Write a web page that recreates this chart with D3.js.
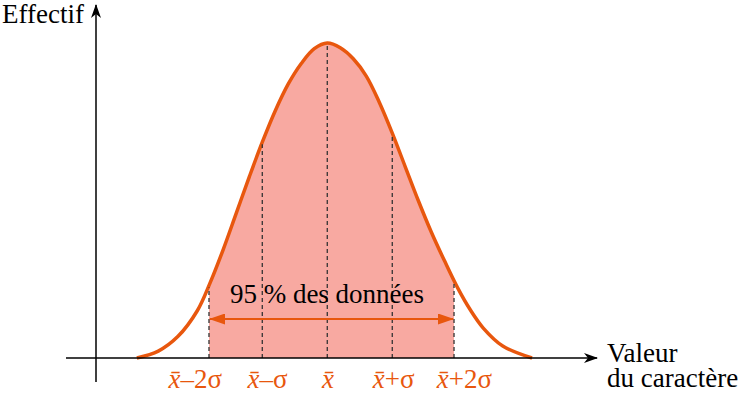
<!DOCTYPE html>
<html><head><meta charset="utf-8">
<script src="https://cdn.jsdelivr.net/npm/d3@7"></script>
<style>body{margin:0;background:#fff}svg{display:block}</style>
</head><body><svg id="c" width="740" height="397"></svg>
<script>
// Curve samples: position in σ units from the mean, relative height (peak = 1)
const curveU = [-2.93,-2.6,-2.3,-2.0,-1.8,-1.6,-1.4,-1.2,-1.0,-0.8,-0.6,-0.4,-0.2,0,0.2,0.4,0.6,0.8,1.0,1.2,1.4,1.6,1.8,2.0,2.2,2.4,2.7,3.15];
const curveH = [0,0.022,0.068,0.15,0.24,0.345,0.46,0.575,0.685,0.785,0.87,0.935,0.982,1.0,0.985,0.95,0.895,0.812,0.714,0.607,0.50,0.40,0.31,0.225,0.153,0.095,0.038,0];
// Reference marks
const markNames = ["–2σ","–σ","","+σ","+2σ"];
const markU = [-1.82,-1.0,0,1.0,1.95];
const labelU = [-2.03,-0.92,0.01,1.02,2.11];
const bandText = "95 % des données";
const yTitle = "Effectif";
const xTitle = ["Valeur","du caractère"];

const svg = d3.select("#c");
const orange = "#e8570e", fill = "#f8a9a1";
const x = d3.scaleLinear().domain([-4.02,4.15]).range([66,597]);
const y = d3.scaleLinear().domain([0,1]).range([358,43]);
const pts = curveU.map((u,i)=>[u,curveH[i]]);

const defs = svg.append("defs");
defs.append("clipPath").attr("id","band").append("rect")
  .attr("x",x(markU[0])).attr("width",x(markU[4])-x(markU[0])).attr("y",0).attr("height",397);
const mk = (id,path,w,h,refX)=>defs.append("marker").attr("id",id).attr("viewBox",`0 0 ${w} ${h}`)
  .attr("refX",refX).attr("refY",h/2).attr("markerWidth",w).attr("markerHeight",h)
  .attr("markerUnits","userSpaceOnUse").attr("orient","auto-start-reverse")
  .append("path").attr("d",path);
mk("ax","M0,0L14,5L0,10L4,5Z",14,10,13).attr("fill","#000");
mk("oa","M0,0L16,5.5L0,11Z",16,11,15).attr("fill",orange);

const crv = d3.curveCatmullRom.alpha(0.5);
const area = d3.area().x(d=>x(d[0])).y0(y(0)).y1(d=>y(d[1])).curve(crv);
const line = d3.line().x(d=>x(d[0])).y(d=>y(d[1])).curve(crv);

svg.append("path").attr("d",area(pts)).attr("fill",fill).attr("clip-path","url(#band)");

const curve = svg.append("path").attr("d",line(pts)).attr("fill","none").attr("stroke",orange).attr("stroke-width",3.5);

// find curve y at a given x pixel
const node = curve.node(), L = node.getTotalLength();
function yAt(px){
  let lo=0, hi=L;
  for(let k=0;k<40;k++){const m=(lo+hi)/2; if(node.getPointAtLength(m).x<px) lo=m; else hi=m;}
  return node.getPointAtLength(lo).y;
}

// dashed reference lines
svg.selectAll("line.m").data(markU).join("line").attr("class","m")
  .attr("x1",d=>x(d)).attr("x2",d=>x(d)).attr("y1",y(0)).attr("y2",d=>yAt(x(d))+2)
  .attr("stroke","#333").attr("stroke-width",1.3).attr("stroke-dasharray","4,3");

// axes
svg.append("line").attr("x1",66).attr("x2",x(4.15)).attr("y1",y(0)).attr("y2",y(0))
  .attr("stroke","#000").attr("stroke-width",1.5).attr("marker-end","url(#ax)");
svg.append("line").attr("x1",96).attr("x2",96).attr("y1",382).attr("y2",5)
  .attr("stroke","#000").attr("stroke-width",1.5).attr("marker-end","url(#ax)");

// band arrow
svg.append("line").attr("x1",x(markU[0])+1).attr("x2",x(markU[4])-1).attr("y1",319).attr("y2",319)
  .attr("stroke",orange).attr("stroke-width",2).attr("marker-start","url(#oa)").attr("marker-end","url(#oa)");

const T = (sel)=>sel.attr("font-family","Liberation Serif").style("font-family",'"Liberation Serif"');
T(svg.append("text")).attr("x",327).attr("y",303).attr("text-anchor","middle")
  .attr("font-size",27).attr("fill","#000").text(bandText);

// mark labels
const lab = T(svg.selectAll("text.l").data(markNames).join("text")).attr("class","l")
  .attr("x",(d,i)=>x(labelU[i])).attr("y",388).attr("text-anchor","middle")
  .attr("font-size",27).attr("fill",orange);
lab.append("tspan").attr("font-style","italic").text("x\u0304");
lab.append("tspan").text(d=>d);

// titles
T(svg.append("text")).attr("x",2).attr("y",23).attr("font-size",27).text(yTitle);
T(svg.append("text")).attr("x",607).attr("y",362).attr("font-size",27).text(xTitle[0]);
T(svg.append("text")).attr("x",607).attr("y",387).attr("font-size",27).text(xTitle[1]);
</script></body></html>
